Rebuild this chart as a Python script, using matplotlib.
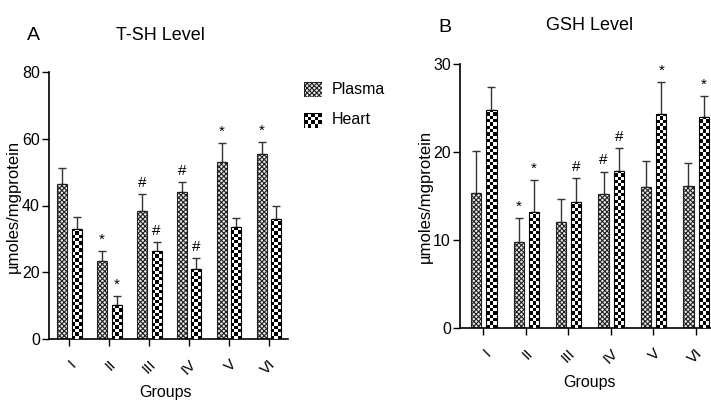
import numpy as np
import matplotlib
matplotlib.use("Agg")
import matplotlib.pyplot as plt
from matplotlib.patches import Rectangle

groups = ['I', 'II', 'III', 'IV', 'V', 'VI']

tsh_plasma = [46.5, 23.5, 38.5, 44.0, 53.0, 55.3]
tsh_plasma_err = [4.7, 2.9, 4.9, 3.0, 5.7, 3.8]
tsh_heart = [33.0, 10.1, 26.3, 20.9, 33.5, 36.0]
tsh_heart_err = [3.5, 2.8, 2.7, 3.3, 2.7, 3.9]
tsh_plasma_marks = ['', '*', '#', '#', '*', '*']
tsh_heart_marks = ['', '*', '#', '#', '', '']

gsh_plasma = [15.4, 9.8, 12.1, 15.3, 16.1, 16.2]
gsh_plasma_err = [4.7, 2.7, 2.6, 2.5, 2.9, 2.6]
gsh_heart = [24.8, 13.2, 14.4, 17.9, 24.4, 24.05]
gsh_heart_err = [2.6, 3.65, 2.65, 2.6, 3.6, 2.3]
gsh_plasma_marks = ['', '*', '', '#', '', '']
gsh_heart_marks = ['', '*', '#', '#', '*', '*']

FONT = ['Liberation Sans', 'DejaVu Sans']
plt.rcParams['hatch.linewidth'] = 0.8
plt.rcParams['hatch.color'] = '#222222'

W, H = 711, 403
fig = plt.figure(figsize=(W / 100, H / 100), dpi=100)


def checker(ax, rect, px_per_unit_y, px_per_unit_x, sq=3.3):
    x0, w, h = rect.get_x(), rect.get_width(), rect.get_height()
    ncols = max(1, int(round(w * px_per_unit_x / sq)))
    nrows = max(1, int(round(h * px_per_unit_y / sq)))
    pat = (np.indices((nrows, ncols)).sum(0) % 2).astype(float)
    im = ax.imshow(pat, cmap='gray', extent=[x0, x0 + w, 0, h], aspect='auto',
                   interpolation='nearest', origin='lower', zorder=3, vmin=0, vmax=1)
    im.set_clip_path(rect)


def panel(rect_fig, plasma, perr, heart, herr, pm, hm, ymax, ystep, xlim,
          offs, width):
    ax = fig.add_axes(rect_fig)
    x = np.arange(len(groups))
    ax.bar(x + offs[0], plasma, width, facecolor='#e8e8e8', edgecolor='#222222',
           hatch='xxxxxxx', linewidth=0.8, zorder=2)
    bh = ax.bar(x + offs[1], heart, width, facecolor='none', edgecolor='black',
                linewidth=0.8, zorder=4)
    ax.set_xlim(*xlim)
    ax.set_ylim(0, ymax)
    axw = rect_fig[2] * W
    axh = rect_fig[3] * H
    ppx = axw / (xlim[1] - xlim[0])
    ppy = axh / ymax
    for r in bh:
        checker(ax, r, ppy, ppx)
    ax.errorbar(x + offs[0], plasma, yerr=[np.zeros(len(plasma)), perr], fmt='none',
                ecolor='#333333', elinewidth=1, capsize=3, capthick=1, zorder=1)
    ax.errorbar(x + offs[1], heart, yerr=[np.zeros(len(heart)), herr], fmt='none',
                ecolor='#333333', elinewidth=1, capsize=3, capthick=1, zorder=1)
    pad = 1.3 * ymax / 80
    for i in range(len(groups)):
        if pm[i]:
            ax.text(x[i] + offs[0], plasma[i] + perr[i] + pad, pm[i], ha='center',
                    va='bottom', fontsize=11, family=FONT)
        if hm[i]:
            ax.text(x[i] + offs[1], heart[i] + herr[i] + pad, hm[i], ha='center',
                    va='bottom', fontsize=11, family=FONT)
    ax.set_xlim(*xlim)
    ax.set_ylim(0, ymax)
    ax.set_yticks(np.arange(0, ymax + 0.1, ystep))
    ax.set_xticks(x)
    ax.set_xticklabels(groups, rotation=45, ha='right', rotation_mode='anchor',
                       family=FONT, fontsize=11)
    for lab in ax.get_yticklabels():
        lab.set_family(FONT)
        lab.set_fontsize(11.5)
    ax.spines['top'].set_visible(False)
    ax.spines['right'].set_visible(False)
    ax.spines['left'].set_linewidth(1.2)
    ax.spines['bottom'].set_linewidth(1.2)
    ax.tick_params(axis='both', direction='out', length=5, width=1, pad=1.5)
    ax.tick_params(axis='x', pad=8)
    return ax


axA = panel([49 / W, 1 - 339 / H, (288 - 49) / W, (339 - 72) / H],
            tsh_plasma, tsh_plasma_err, tsh_heart, tsh_heart_err,
            tsh_plasma_marks, tsh_heart_marks, 80, 20, (-0.5, 5.48),
            (-0.18, 0.19), 0.25)
axB = panel([460 / W, 1 - 328.3 / H, (711 - 460) / W, (328.3 - 64.3) / H],
            gsh_plasma, gsh_plasma_err, gsh_heart, gsh_heart_err,
            gsh_plasma_marks, gsh_heart_marks, 30, 10, (-0.55, 5.36),
            (-0.17, 0.19), 0.24)

fig.text(13 / W, 1 - 206 / H, 'µmoles/mgprotein', rotation=90, ha='center',
         va='center', fontsize=12, family=FONT)
fig.text(425 / W, 1 - 196 / H, 'µmoles/mgprotein', rotation=90, ha='center',
         va='center', fontsize=12, family=FONT)
fig.text(33 / W, 1 - 36 / H, 'A', ha='center', va='center', fontsize=14, family=FONT)
fig.text(160 / W, 1 - 35 / H, 'T-SH Level', ha='center', va='center', fontsize=13,
         family=FONT)
fig.text(445 / W, 1 - 28 / H, 'B', ha='center', va='center', fontsize=14, family=FONT)
fig.text(590 / W, 1 - 26 / H, 'GSH Level', ha='center', va='center', fontsize=13,
         family=FONT)
fig.text(165 / W, 1 - 393 / H, 'Groups', ha='center', va='center', fontsize=11.5,
         family=FONT)
fig.text(590 / W, 1 - 383 / H, 'Groups', ha='center', va='center', fontsize=11.5,
         family=FONT)

# legend
sw1 = fig.add_axes([304 / W, 1 - 97 / H, 18 / W, 15 / H])
sw1.add_patch(Rectangle((0, 0), 1, 1, facecolor='#e8e8e8', edgecolor='#222222',
                        hatch='xxxxxxx', linewidth=0.8))
sw1.set_xlim(0, 1)
sw1.set_ylim(0, 1)
sw1.axis('off')
sw2 = fig.add_axes([304 / W, 1 - 128 / H, 18 / W, 15 / H])
pat = (np.indices((4, 5)).sum(0) % 2).astype(float)
sw2.imshow(pat, cmap='gray', extent=[0, 1, 0, 1], aspect='auto',
           interpolation='nearest', vmin=0, vmax=1)
sw2.add_patch(Rectangle((0, 0), 1, 1, facecolor='none', edgecolor='black',
                        linewidth=0.8))
sw2.set_xlim(0, 1)
sw2.set_ylim(0, 1)
sw2.axis('off')
fig.text(332 / W, 1 - 90 / H, 'Plasma', ha='left', va='center', fontsize=11.5,
         family=FONT)
fig.text(332 / W, 1 - 120 / H, 'Heart', ha='left', va='center', fontsize=11.5,
         family=FONT)

fig.savefig('out.png', dpi=100)
